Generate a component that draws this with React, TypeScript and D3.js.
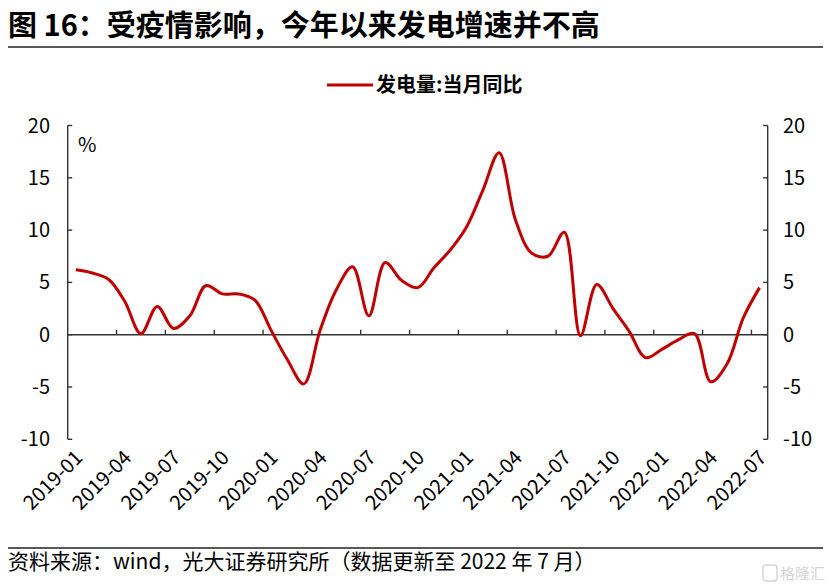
import React from "react";
import * as d3 from "d3";

const months = [
  "2019-01","2019-02","2019-03","2019-04","2019-05","2019-06","2019-07","2019-08","2019-09","2019-10","2019-11","2019-12",
  "2020-01","2020-02","2020-03","2020-04","2020-05","2020-06","2020-07","2020-08","2020-09","2020-10","2020-11","2020-12",
  "2021-01","2021-02","2021-03","2021-04","2021-05","2021-06","2021-07","2021-08","2021-09","2021-10","2021-11","2021-12",
  "2022-01","2022-02","2022-03","2022-04","2022-05","2022-06","2022-07",
];
const values = [
  6.2, 5.9, 5.3, 3.2, 0.1, 2.7, 0.6, 1.8, 4.7, 3.9, 3.9, 3.3,
  0.4, -2.4, -4.7, 0.4, 4.3, 6.5, 1.8, 6.9, 5.2, 4.5, 6.4, 8.1,
  10.3, 13.8, 17.4, 11.0, 7.8, 7.5, 9.8, -0.1, 4.8, 2.5, 0.3, -2.2,
  -1.4, -0.5, 0.1, -4.5, -2.8, 1.6, 4.5,
];
const yTicks = [-10, -5, 0, 5, 10, 15, 20];
const xLabels = months.filter((_, i) => i % 3 === 0);
const title = "图 16：受疫情影响，今年以来发电增速并不高";
const seriesName = "发电量:当月同比";
const source = "资料来源：wind，光大证券研究所（数据更新至 2022 年 7 月）";

const FONT = "'Noto Sans CJK SC', 'Noto Sans', sans-serif";
const RED = "#C00000";

export default function App() {
  const left = 67.7, right = 767.7, top = 125.5, bottom = 439.3;
  const x = d3.scaleBand<string>().domain(months).range([left, right]).padding(0);
  const y = d3.scaleLinear().domain([-10, 20]).range([bottom, top]);
  const cx = (m: string) => (x(m) as number) + x.bandwidth() / 2;
  const line = d3
    .line<number>()
    .x((_, i) => cx(months[i]))
    .y((d) => y(d))
    .curve(d3.curveCatmullRom.alpha(0.5));
  const boundaryTicks = months
    .map((_, i) => i)
    .filter((i) => i > 0 && i % 3 === 0)
    .map((i) => x(months[i]) as number);

  return (
    <svg
      width={834}
      height={588}
      style={{ position: "absolute", left: 0, top: 0, background: "#fff" }}
      fontFamily={FONT}
    >
      <rect x={0} y={0} width={834} height={588} fill="#fff" />
      {/* title */}
      <text x={8} y={36} fontSize={29} fontWeight="bold" fill="#000">
        {title}
      </text>
      <line x1={8} x2={823} y1={47} y2={47} stroke="#222" strokeWidth={1.6} />

      {/* legend */}
      <line x1={327} x2={373} y1={85} y2={85} stroke={RED} strokeWidth={3} />
      <text x={376} y={92} fontSize={20} fontWeight="bold" fill="#000">
        {seriesName}
      </text>

      {/* axes */}
      <line x1={left} x2={left} y1={top} y2={bottom} stroke="#333" strokeWidth={1.4} />
      <line x1={right} x2={right} y1={top} y2={bottom} stroke="#333" strokeWidth={1.4} />
      <line x1={left} x2={right} y1={y(0)} y2={y(0)} stroke="#333" strokeWidth={1.4} />
      {yTicks.map((t) => (
        <g key={t}>
          <line x1={left} x2={left + 4.5} y1={y(t)} y2={y(t)} stroke="#333" strokeWidth={1.4} />
          <line x1={right - 4.5} x2={right} y1={y(t)} y2={y(t)} stroke="#333" strokeWidth={1.4} />
          <text x={50} y={y(t)} dy="0.35em" textAnchor="end" fontSize={20} fill="#000">
            {t}
          </text>
          <text x={783} y={y(t)} dy="0.35em" textAnchor="start" fontSize={20} fill="#000">
            {t}
          </text>
        </g>
      ))}
      {boundaryTicks.map((bx, i) => (
        <line key={i} x1={bx} x2={bx} y1={y(0)} y2={y(0) - 5} stroke="#333" strokeWidth={1.4} />
      ))}
      <text x={78} y={152} fontSize={20} fill="#000">%</text>

      {/* x labels */}
      {xLabels.map((m) => (
        <text
          key={m}
          transform={`translate(${cx(m) + 8},${459}) rotate(-45)`}
          textAnchor="end"
          fontSize={20}
          fill="#000"
        >
          {m}
        </text>
      ))}

      {/* series */}
      <path d={line(values) || ""} fill="none" stroke={RED} strokeWidth={3} strokeLinejoin="round" />

      {/* footer */}
      <line x1={8} x2={823} y1={548} y2={548} stroke="#222" strokeWidth={1.6} />
      <text x={8} y={569} fontSize={21} fill="#000">
        {source}
      </text>
      <g opacity={0.35}>
        <rect x={763} y={565} width={14} height={16} rx={3} fill="none" stroke="#888" strokeWidth={1.5} />
        <text x={780} y={579} fontSize={15} fill="#888">格隆汇</text>
      </g>
    </svg>
  );
}
